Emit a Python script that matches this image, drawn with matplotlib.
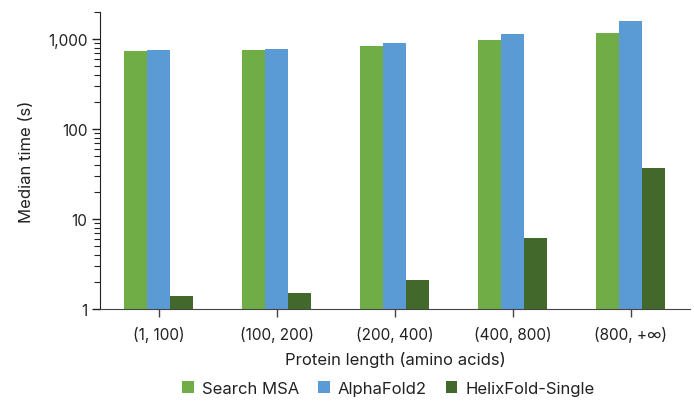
import matplotlib
matplotlib.use("Agg")
import matplotlib.pyplot as plt
import numpy as np
from matplotlib.ticker import FuncFormatter, LogLocator, NullFormatter

categories = ["(1, 100)", "(100, 200)", "(200, 400)", "(400, 800)", "(800, +\u221e)"]
search_msa = [730, 755, 843, 975, 1175]
alphafold2 = [755, 774, 903, 1136, 1585]
helixfold_single = [1.41, 1.51, 2.12, 6.15, 36.9]

plt.rcParams["font.family"] = ["Inter", "DejaVu Sans"]

fig = plt.figure(figsize=(6.94, 4.02), dpi=100)
ax = fig.add_axes([0.144, 0.229, 0.85, 0.739])

x = np.arange(len(categories))
w = 0.195
ax.bar(x - w, search_msa, w, color="#70AD47", label="Search MSA")
ax.bar(x, alphafold2, w, color="#5B9BD5", label="AlphaFold2")
ax.bar(x + w, helixfold_single, w, color="#43682B", label="HelixFold-Single")

ax.set_yscale("log")
ax.set_ylim(1, 2000)
ax.set_xlim(-0.5, 4.5)
ax.yaxis.set_major_locator(LogLocator(base=10, numticks=10))
ax.yaxis.set_minor_locator(LogLocator(base=10, subs=np.arange(2, 10), numticks=20))
ax.yaxis.set_major_formatter(FuncFormatter(lambda v, p: "{:,.0f}".format(v)))
ax.yaxis.set_minor_formatter(NullFormatter())

ax.set_xticks(x)
ax.set_xticklabels(categories)

for s in ["top", "right"]:
    ax.spines[s].set_visible(False)
ax.spines["left"].set_color("#222222")
ax.spines["bottom"].set_color("#444444")
ax.tick_params(axis="y", which="major", length=6, width=1, labelsize=11, color="#222222",
               labelcolor="#222222", pad=3)
ax.tick_params(axis="y", which="minor", length=4, width=0.8, color="#222222")
ax.tick_params(axis="x", length=6, width=1, labelsize=11, color="#444444",
               labelcolor="#222222", pad=6)

ax.set_ylabel("Median time (s)", fontsize=12, labelpad=10, color="#222222")
ax.set_xlabel("Protein length (amino acids)", fontsize=12, labelpad=7, color="#222222")

fig.legend(loc="lower center", bbox_to_anchor=(0.56, -0.024), ncol=3, frameon=False,
           fontsize=12, handlelength=0.7, handleheight=0.7, handletextpad=0.5,
           columnspacing=1.1, labelcolor="#222222")

fig.savefig("out.png", dpi=100)
